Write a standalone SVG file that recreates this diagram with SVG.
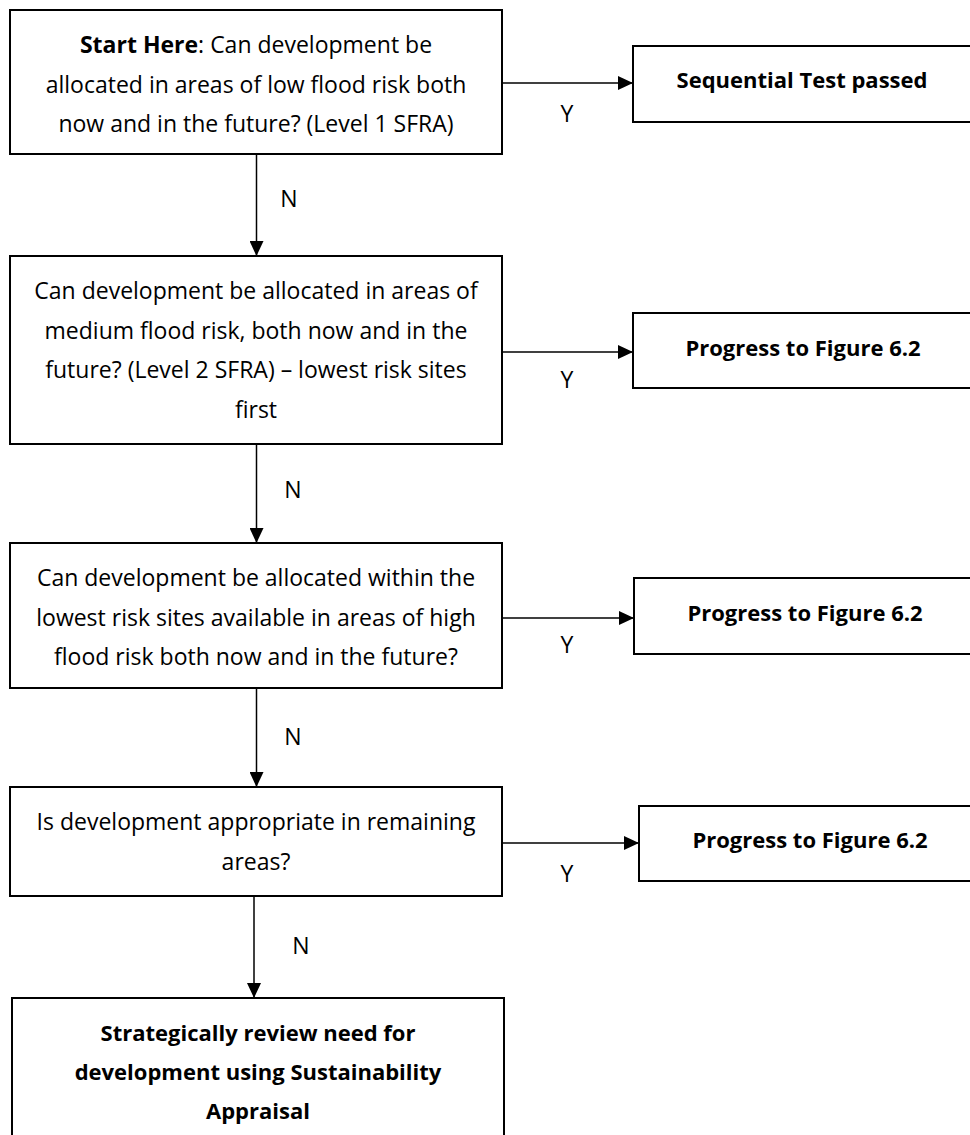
<svg xmlns="http://www.w3.org/2000/svg" width="970" height="1135" viewBox="0 0 970 1135">
<style>
.box{fill:#fff;stroke:#000;stroke-width:2}
.t{font-family:"Open Sans","Liberation Sans",sans-serif;font-size:23px;fill:#000;text-anchor:middle}
.b{font-weight:bold}
.bb{font-weight:bold;font-size:22px}
.c{fill:none;stroke:#000;stroke-width:1.5;marker-end:url(#ah)}
</style>
<defs>
<marker id="ah" markerUnits="userSpaceOnUse" markerWidth="15" markerHeight="14" refX="15" refY="7" orient="auto">
<path d="M0,0 L15,7 L0,14 z" fill="#000"/>
</marker>
</defs>
<rect width="970" height="1135" fill="#fff"/>
<g id="connectors">
<line class="c" x1="256.5" y1="154" x2="256.5" y2="256"/>
<line class="c" x1="256.5" y1="444" x2="256.5" y2="543"/>
<line class="c" x1="256.5" y1="688" x2="256.5" y2="787"/>
<line class="c" x1="254" y1="896" x2="254" y2="998"/>
<line class="c" x1="502" y1="83" x2="633" y2="83"/>
<line class="c" x1="502" y1="352" x2="633" y2="352"/>
<line class="c" x1="502" y1="618" x2="634" y2="618"/>
<line class="c" x1="502" y1="843" x2="639" y2="843"/>
<text class="t" x="289" y="207">N</text>
<text class="t" x="293" y="498">N</text>
<text class="t" x="293" y="745">N</text>
<text class="t" x="301" y="954">N</text>
<text class="t" x="567" y="122">Y</text>
<text class="t" x="567" y="388">Y</text>
<text class="t" x="567" y="653">Y</text>
<text class="t" x="567" y="882">Y</text>
</g>
<g id="q1">
<rect class="box" x="10" y="10" width="492" height="144"/>
<text class="t" x="256" y="53"><tspan class="b">Start Here</tspan>: Can development be</text>
<text class="t" x="256" y="92.5">allocated in areas of low flood risk both</text>
<text class="t" x="256" y="132">now and in the future? (Level 1 SFRA)</text>
</g>
<g id="q2">
<rect class="box" x="10" y="256" width="492" height="188"/>
<text class="t" x="256" y="299">Can development be allocated in areas of</text>
<text class="t" x="256" y="338.5">medium flood risk, both now and in the</text>
<text class="t" x="256" y="378">future? (Level 2 SFRA) – lowest risk sites</text>
<text class="t" x="256" y="417.5">first</text>
</g>
<g id="q3">
<rect class="box" x="10" y="543" width="492" height="145"/>
<text class="t" x="256" y="586">Can development be allocated within the</text>
<text class="t" x="256" y="625.5">lowest risk sites available in areas of high</text>
<text class="t" x="256" y="665">flood risk both now and in the future?</text>
</g>
<g id="q4">
<rect class="box" x="10" y="787" width="492" height="109"/>
<text class="t" x="256" y="830">Is development appropriate in remaining</text>
<text class="t" x="256" y="869.5">areas?</text>
</g>
<g id="review">
<rect class="box" x="12" y="998" width="492" height="150"/>
<text class="t bb" x="258" y="1041">Strategically review need for</text>
<text class="t bb" x="258" y="1080">development using Sustainability</text>
<text class="t bb" x="258" y="1119">Appraisal</text>
</g>
<g id="passed">
<rect class="box" x="633" y="46" width="345" height="76"/>
<text class="t bb" x="802" y="88">Sequential Test passed</text>
</g>
<g id="fig62a">
<rect class="box" x="633" y="313" width="345" height="75"/>
<text class="t bb" x="803" y="356">Progress to Figure 6.2</text>
</g>
<g id="fig62b">
<rect class="box" x="634" y="578" width="345" height="76"/>
<text class="t bb" x="805" y="621">Progress to Figure 6.2</text>
</g>
<g id="fig62c">
<rect class="box" x="639" y="806" width="345" height="75"/>
<text class="t bb" x="810" y="848">Progress to Figure 6.2</text>
</g>
</svg>
